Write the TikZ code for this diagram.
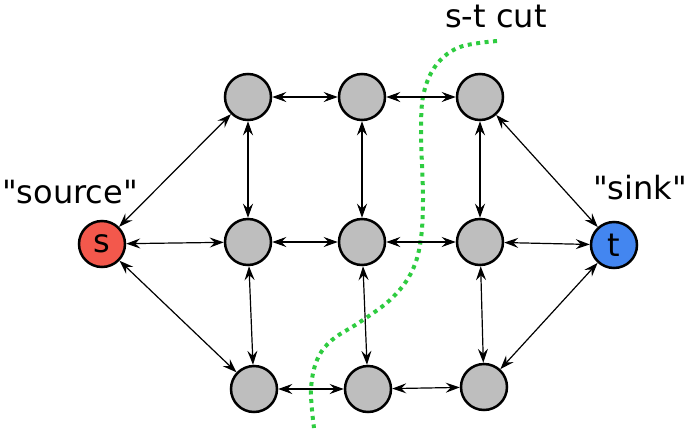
\documentclass[tikz,border=0pt]{standalone}
\usepackage{fontspec}
\setmainfont{DejaVu Sans}[Ligatures=TeXOff]
\usetikzlibrary{arrows.meta}
\definecolor{nodegray}{RGB}{190,190,190}
\definecolor{srcred}{RGB}{243,88,76}
\definecolor{sinkblue}{RGB}{67,134,240}
\definecolor{cutgreen}{RGB}{46,204,64}
\begin{document}
\begin{tikzpicture}[x=1pt,y=-1pt,
    vertex/.style={circle,draw,line width=2.5pt,minimum size=46pt,inner sep=0pt,
      fill=nodegray,font=\fontsize{32}{38}\selectfont},
    link/.style={<->,line width=1.2pt,>={Stealth[length=14pt,width=10pt,inset=5pt]}},
    label/.style={anchor=base,font=\fontsize{32}{38}\selectfont}]
  \useasboundingbox (0,0) rectangle (689,429);
  % cut
  \draw [cutgreen,line width=4pt,dash pattern=on 4pt off 4.5pt]
    plot [smooth,tension=0.6] coordinates {(497,41) (460,47) (437,64) (424,92) (421,130)
      (423,200) (420,245) (410,275) (390,300) (360,322) (332,340) (317,360) (311,390) (314,428)};
  % nodes
  \node [vertex,fill=srcred] (s) at (102,244) {s};
  \node [vertex,fill=sinkblue] (t) at (614,245) {t};
  \node [vertex] (a1) at (248,97) {};
  \node [vertex] (a2) at (362,97) {};
  \node [vertex] (a3) at (480,97) {};
  \node [vertex] (b1) at (248,242) {};
  \node [vertex] (b2) at (362,242) {};
  \node [vertex] (b3) at (480,242) {};
  \node [vertex] (c1) at (254,389) {};
  \node [vertex] (c2) at (368,389) {};
  \node [vertex] (c3) at (484,387) {};
  % labels
  \node [label] (src) at (70,203) {"source"};
  \node [label] (snk) at (640,199) {"sink"};
  \node [label] (cut) at (496,27) {s-t cut};
  % edges
  \draw [link] (s) to (a1);
  \draw [link] (s) to (b1);
  \draw [link] (s) to (c1);
  \draw [link] (a3) to (t);
  \draw [link] (b3) to (t);
  \draw [link] (c3) to (t);
  \draw [link] (a1) to (a2);
  \draw [link] (a2) to (a3);
  \draw [link] (b1) to (b2);
  \draw [link] (b2) to (b3);
  \draw [link] (c1) to (c2);
  \draw [link] (c2) to (c3);
  \draw [link] (a1) to (b1);
  \draw [link] (a2) to (b2);
  \draw [link] (a3) to (b3);
  \draw [link] (b1) to (c1);
  \draw [link] (b2) to (c2);
  \draw [link] (b3) to (c3);
\end{tikzpicture}
\end{document}
